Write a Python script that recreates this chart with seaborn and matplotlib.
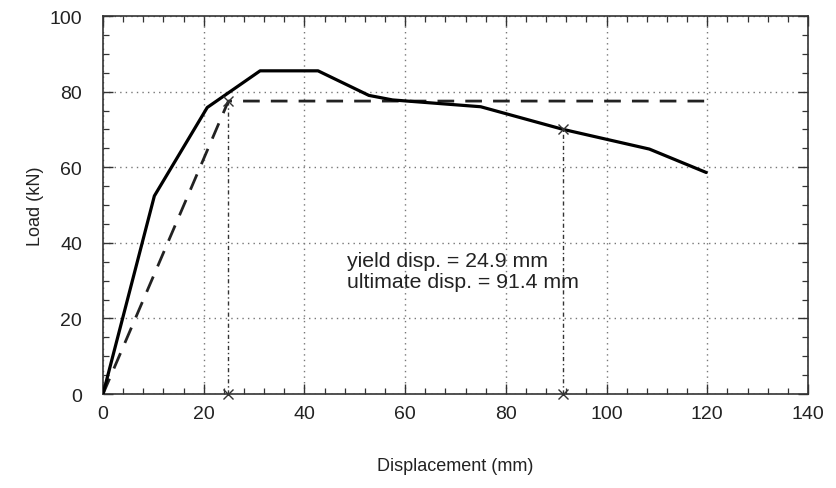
import matplotlib
matplotlib.use("Agg")
import matplotlib.pyplot as plt
from matplotlib.ticker import MultipleLocator
import seaborn as sns
import pandas as pd

# Measured load-displacement response
disp_measured = [0, 10.2, 20.7, 31.2, 42.7, 52.8, 57.5, 75.0, 91.4, 108.5, 119.8]
load_measured = [0, 52.4, 75.8, 85.5, 85.5, 79.0, 77.8, 76.0, 70.0, 64.8, 58.6]

# Idealised bilinear response
disp_bilinear = [0, 24.9, 120.0]
load_bilinear = [0, 77.5, 77.5]

# Characteristic displacements
yield_disp = 24.9
yield_load = 77.5
ultimate_disp = 91.4
ultimate_load = 70.0

x_ticks = [0, 20, 40, 60, 80, 100, 120, 140]
y_ticks = [0, 20, 40, 60, 80, 100]

sns.set_style("ticks")
plt.rcParams["font.family"] = ["Liberation Sans", "DejaVu Sans"]

fig = plt.figure(figsize=(8.36, 4.89), dpi=100)
ax = fig.add_axes([0.1232, 0.1922, 0.8433, 0.773])

measured = pd.DataFrame({"disp": disp_measured, "load": load_measured})
bilinear = pd.DataFrame({"disp": disp_bilinear, "load": load_bilinear})

sns.lineplot(data=measured, x="disp", y="load", color="black", lw=2.3,
             sort=False, ax=ax, zorder=4)
sns.lineplot(data=bilinear, x="disp", y="load", color="#222222", lw=2.0,
             sort=False, ax=ax, zorder=3)
ax.lines[-1].set_dashes((6, 4))

# Vertical markers for yield and ultimate displacement
for xd, yd in [(yield_disp, yield_load), (ultimate_disp, ultimate_load)]:
    ax.plot([xd, xd], [0, yd], color="#333333", lw=1.0,
            dashes=(3, 2, 1, 2), zorder=2)
    ax.plot([xd, xd], [0, yd], ls="none", marker="x", ms=7, mew=1.0,
            color="#333333", zorder=5, clip_on=False)

ax.text(48.4, 32.5,
        f"yield disp. = {yield_disp} mm\nultimate disp. = {ultimate_disp} mm",
        fontsize=15.3, color="#222222", va="center", ha="left",
        linespacing=1.12)

ax.set_xlim(0, 140)
ax.set_ylim(0, 100)
ax.set_xticks(x_ticks)
ax.set_yticks(y_ticks)
ax.xaxis.set_minor_locator(MultipleLocator(4))
ax.yaxis.set_minor_locator(MultipleLocator(5))
ax.tick_params(which="both", direction="in", top=True, right=True,
               color="#333333", labelsize=14, labelcolor="#222222")
ax.tick_params(which="major", length=7, width=1.0)
ax.tick_params(axis="x", which="major", pad=8)
ax.tick_params(axis="y", which="major", pad=15)
ax.tick_params(which="minor", length=4, width=0.9)

ax.grid(True, which="major", ls=(0, (1, 3)), color="#777777", lw=1.0)
for spine in ax.spines.values():
    spine.set_color("#333333")
    spine.set_linewidth(1.2)

ax.set_xlabel("Displacement (mm)", fontsize=13, color="#222222", labelpad=25)
ax.set_ylabel("Load (kN)", fontsize=13, color="#222222", labelpad=4)

fig.savefig("out.png", dpi=100)
